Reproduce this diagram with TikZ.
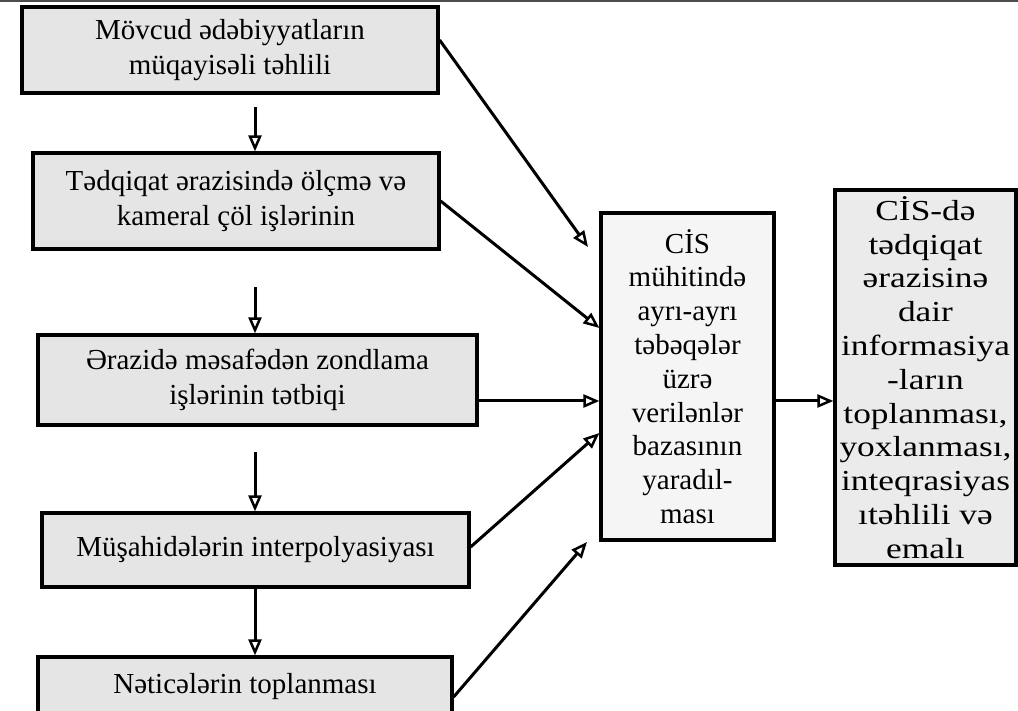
\documentclass[tikz,border=0pt]{standalone}
\usepackage{fontspec}
\setmainfont{Liberation Serif}
\newfontfamily\boxfont{Liberation Serif}
\newfontfamily\widefont[FakeStretch=1.22]{Liberation Serif}
\usetikzlibrary{arrows.meta}
\begin{document}
\begin{tikzpicture}[x=1pt,y=-1pt,
  box/.style={draw=black, line width=3.2pt, fill=gray!20, align=center, inner sep=0pt,
    font=\boxfont\fontsize{29}{35}\selectfont},
  tall/.style={box, font=\boxfont\fontsize{29}{33.8}\selectfont},
  arr/.style={line width=3pt, -{Triangle[open,length=16pt,width=13pt,line width=2.5pt]}}
]
\clip (0,0) rectangle (1018,711);
\fill[white] (0,0) rectangle (1018,711);
\draw[line width=2.5pt, black!70] (0,1) -- (1018,1);

\node[box, minimum width=416pt, minimum height=86pt] (b1) at (230,50)
  {Mövcud ədəbiyyatların\\müqayisəli təhlili};
\node[box, minimum width=406pt, minimum height=96pt] (b2) at (236,201)
  {Tədqiqat ərazisində ölçmə və\\kameral çöl işlərinin};
\node[box, minimum width=439pt, minimum height=90pt] (b3) at (257.5,380)
  {Ərazidə məsafədən zondlama\\işlərinin tətbiqi};
\node[box, minimum width=427pt, minimum height=74pt] (b4) at (255.5,550)
  {Müşahidələrin interpolyasiyası};
\node[box, minimum width=414pt, minimum height=60pt] (b5) at (245,687)
  {Nəticələrin toplanması};

\node[tall, fill=gray!8, minimum width=173pt, minimum height=327pt] (c) at (687.5,376.5)
  {CİS\\mühitində\\ayrı-ayrı\\təbəqələr\\üzrə\\verilənlər\\bazasının\\yaradıl-\\ması};
\node[tall, fill=gray!16, minimum width=181pt, minimum height=375pt,
  font=\widefont\fontsize{29}{33.8}\selectfont] (r) at (925.5,377.5)
  {CİS-də\\tədqiqat\\ərazisinə\\dair\\informasiya\\-ların\\toplanması,\\yoxlanması,\\inteqrasiyas\\ıtəhlili və\\emalı};

% vertical connectors
\coordinate (v1) at (255,107);
\coordinate (v2) at (255,287);
\coordinate (v3) at (255,452);
\draw[arr] (v1) -- (v1 |- b2.north);
\draw[arr] (v2) -- (v2 |- b3.north);
\draw[arr] (v3) -- (v3 |- b4.north);
\draw[arr] (v1 |- b4.south) -- (v1 |- b5.north);

% connectors into the centre box
\coordinate (e1) at (588,247);
\coordinate (e5) at (587,542);
\draw[arr] ([yshift=10pt]b1.east) -- (e1);
\draw[arr] (b2.east) -- ([yshift=48.5pt]c.west);
\draw[arr] ([yshift=-21pt]b3.east) -- ([yshift=-21pt]b3.east -| c.west);
\draw[arr] ([yshift=3pt]b4.east) -- ([yshift=-56.5pt]c.west);
\draw[arr] ([yshift=-10pt]b5.east) -- (e5);

% centre to right
\draw[arr] ([yshift=-24.5pt]c.east) -- ([yshift=-24.5pt]c.east -| r.west);
\end{tikzpicture}
\end{document}
